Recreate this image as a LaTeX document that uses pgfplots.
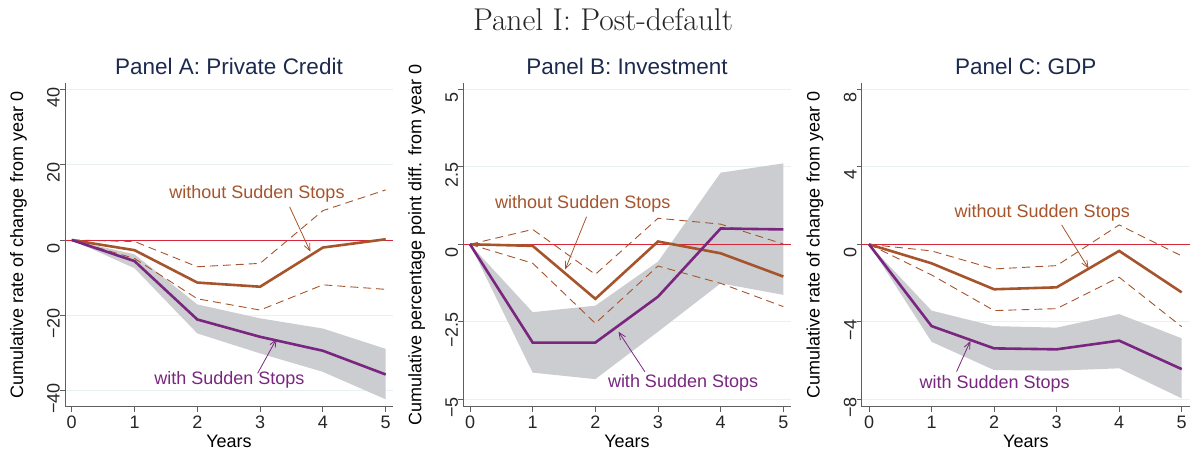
\documentclass[border=0pt]{standalone}
\usepackage{pgfplots}
\pgfplotsset{compat=1.18}
\usepackage{fontspec}
\usetikzlibrary{arrows.meta}
\newfontfamily\arial{Liberation Sans}
\definecolor{brownc}{RGB}{166,84,44}
\definecolor{purplec}{RGB}{122,38,128}
\definecolor{redc}{RGB}{214,39,58}
\definecolor{bandc}{RGB}{204,205,209}
\definecolor{gridc}{RGB}{232,241,242}
\definecolor{navyc}{RGB}{28,42,78}
\definecolor{axisc}{RGB}{95,95,95}
\newcommand{\tf}{\arial\fontsize{18bp}{21bp}\selectfont}
\newcommand{\ttf}{\arial\fontsize{22.5bp}{26bp}\selectfont}
\tikzset{arr/.style={line width=0.8bp, -{Straight Barb[length=7bp,width=6bp]}}}

\pgfplotsset{
  stata/.style={
    scale only axis,
    anchor=south west,
    height=323.4bp,
    axis x line*=bottom,
    axis y line*=left,
    axis line style={axisc, line width=0.9bp, -},
    tick align=outside,
    major tick length=5bp,
    tick style={axisc, line width=0.9bp},
    xtick={0,1,2,3,4,5},
    xticklabels={0,1,2,3,4,5},
    ymajorgrids,
    grid style={gridc, line width=0.9bp},
    every tick label/.append style={font=\tf, text=black!85},
    yticklabel style={rotate=90, anchor=south, inner sep=0pt, xshift=-8bp},
    xticklabel style={anchor=north, inner sep=0pt, yshift=-4bp},
    xlabel={Years},
    xlabel style={font=\tf, at={(axis description cs:0.5,-0.106)}, anchor=center},
    ylabel style={font=\tf, at={(axis description cs:-0.142,0.5)}, anchor=center},
    title style={font=\ttf, text=navyc, at={(axis description cs:0.5,1.035)}, anchor=center},
    clip=false,
  },
  band/.style={fill=bandc, draw=none},
  solidb/.style={brownc, line width=2.6bp},
  solidp/.style={purplec, line width=2.6bp},
  dashb/.style={brownc, line width=0.9bp, dash pattern=on 8bp off 5bp},
  zline/.style={redc, line width=0.9bp},
}

\begin{document}
\begin{tikzpicture}
\path[use as bounding box] (0bp,0bp) rectangle (1192bp,452bp);
\node[font=\fontsize{31.5bp}{36bp}\selectfont, anchor=base, text=black!85] at (603bp,421bp) {Panel I: Post-default};

% Panel A
\begin{axis}[stata, at={(65bp,45.3bp)}, width=328bp,
  xmin=-0.107, xmax=5.116, ymin=-44.25, ymax=41.6,
  ytick={-40,-20,0,20,40}, yticklabels={−40,−20,0,20,40},
  ylabel={Cumulative rate of change from year 0},
  title={Panel A: Private Credit}]
\addplot[band] coordinates {(0,0)(1,-3.8)(2,-17.1)(3,-20.8)(4,-23.5)(5,-28.9)(5,-42.3)(4,-35.0)(3,-30.1)(2,-24.8)(1,-7.5)(0,0)} -- cycle;
\addplot[dashb] coordinates {(0,0)(1,-0.4)(2,-7.1)(3,-6.2)(4,7.8)(5,13.3)};
\addplot[dashb] coordinates {(0,0)(1,-4.9)(2,-15.6)(3,-18.6)(4,-11.9)(5,-13.1)};
\addplot[zline] coordinates {(-0.107,0)(5.116,0)};
\addplot[solidb] coordinates {(0,0)(1,-2.7)(2,-11.3)(3,-12.4)(4,-2.0)(5,0.2)};
\addplot[solidp] coordinates {(0,0)(1,-5.6)(2,-21.1)(3,-25.7)(4,-29.4)(5,-35.7)};
\node[font=\tf, text=brownc] at (axis cs:2.95,12.2) {without Sudden Stops};
\draw[arr, brownc] (axis cs:3.47,8.8) -- (axis cs:3.80,-3.1);
\node[font=\tf, text=purplec] at (axis cs:2.51,-37.2) {with Sudden Stops};
\draw[arr, purplec] (axis cs:2.96,-35.4) -- (axis cs:3.26,-26.3);
\end{axis}

% Panel B
\begin{axis}[stata, at={(463.3bp,45.3bp)}, width=327.4bp,
  xmin=-0.107, xmax=5.118, ymin=-5.239, ymax=5.194,
  ytick={-5,-2.5,0,2.5,5}, yticklabels={−5,−2.5,0,2.5,5},
  ylabel={Cumulative percentage point diff. from year 0},
  title={Panel B: Investment}]
\addplot[band] coordinates {(0,0)(1,-2.19)(2,-1.98)(3,-0.56)(4,2.31)(5,2.61)(5,-1.63)(4,-1.26)(3,-2.82)(2,-4.35)(1,-4.14)(0,0)} -- cycle;
\addplot[dashb] coordinates {(0,0)(1,0.48)(2,-0.97)(3,0.84)(4,0.65)(5,0.01)};
\addplot[dashb] coordinates {(0,0)(1,-0.61)(2,-2.55)(3,-0.70)(4,-1.26)(5,-2.01)};
\addplot[zline] coordinates {(-0.107,0)(5.118,0)};
\addplot[solidb] coordinates {(0,0)(1,-0.05)(2,-1.76)(3,0.09)(4,-0.29)(5,-1.04)};
\addplot[solidp] coordinates {(0,0)(1,-3.17)(2,-3.17)(3,-1.69)(4,0.51)(5,0.48)};
\node[font=\tf, text=brownc] at (axis cs:1.80,1.30) {without Sudden Stops};
\draw[arr, brownc] (axis cs:1.86,0.89) -- (axis cs:1.52,-0.81);
\node[font=\tf, text=purplec] at (axis cs:3.40,-4.46) {with Sudden Stops};
\draw[arr, purplec] (axis cs:2.79,-4.11) -- (axis cs:2.37,-2.82);
\end{axis}

% Panel C
\begin{axis}[stata, at={(861.7bp,45.3bp)}, width=328.3bp,
  xmin=-0.117, xmax=5.133, ymin=-8.38, ymax=8.31,
  ytick={-8,-4,0,4,8}, yticklabels={−8,−4,0,4,8},
  ylabel={Cumulative rate of change from year 0},
  title={Panel C: GDP}]
\addplot[band] coordinates {(0,0)(1,-3.42)(2,-4.22)(3,-4.30)(4,-3.60)(5,-4.85)(5,-7.95)(4,-6.40)(3,-6.52)(2,-6.49)(1,-5.03)(0,0)} -- cycle;
\addplot[dashb] coordinates {(0,0)(1,-0.34)(2,-1.27)(3,-1.10)(4,1.00)(5,-0.60)};
\addplot[dashb] coordinates {(0,0)(1,-1.58)(2,-3.42)(3,-3.32)(4,-1.70)(5,-4.25)};
\addplot[zline] coordinates {(-0.117,0)(5.133,0)};
\addplot[solidb] coordinates {(0,0)(1,-0.98)(2,-2.32)(3,-2.22)(4,-0.34)(5,-2.48)};
\addplot[solidp] coordinates {(0,0)(1,-4.22)(2,-5.37)(3,-5.42)(4,-4.97)(5,-6.44)};
\node[font=\tf, text=brownc] at (axis cs:2.77,1.65) {without Sudden Stops};
\draw[arr, brownc] (axis cs:3.08,1.0) -- (axis cs:3.51,-1.24);
\node[font=\tf, text=purplec] at (axis cs:2.01,-7.18) {with Sudden Stops};
\draw[arr, purplec] (axis cs:1.40,-6.57) -- (axis cs:1.62,-4.99);
\end{axis}
\end{tikzpicture}
\end{document}
